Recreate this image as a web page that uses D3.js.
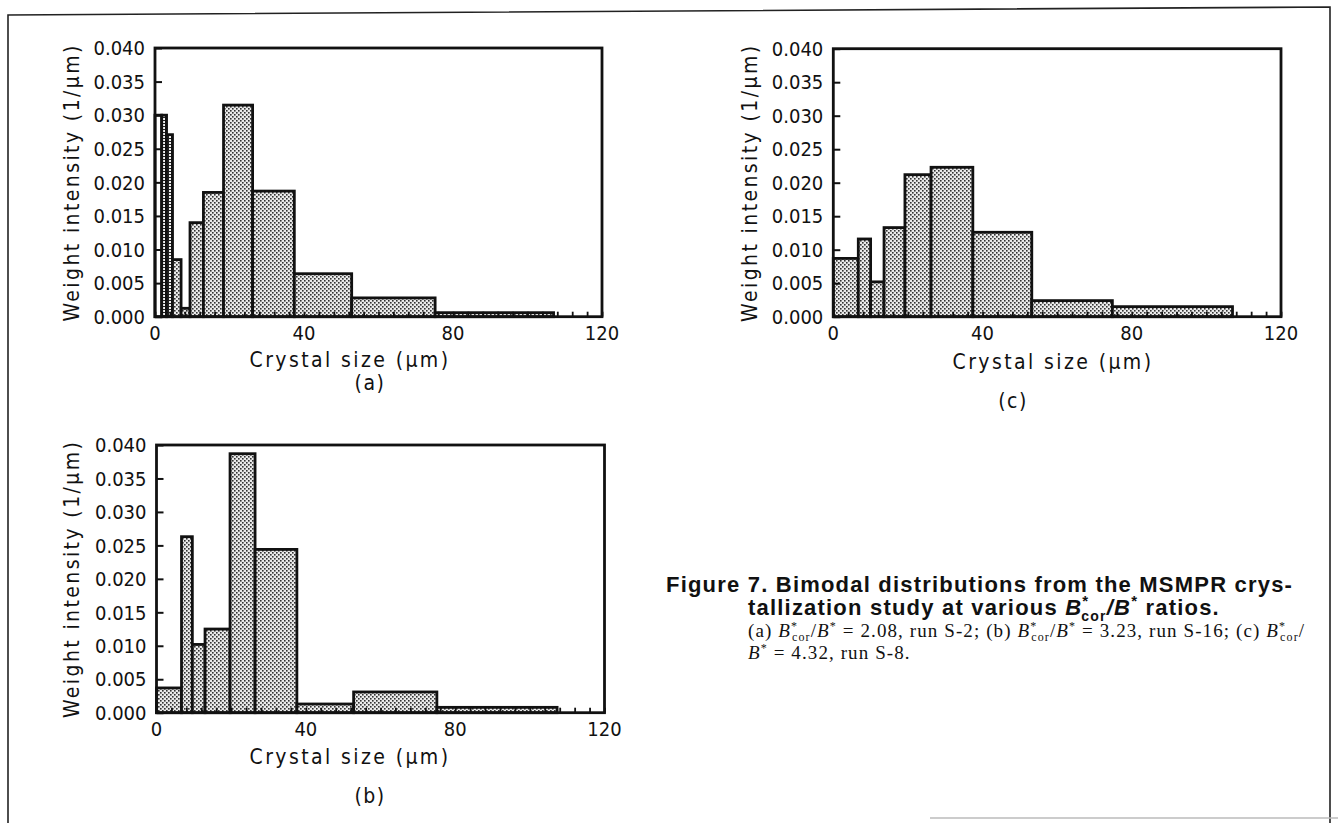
<!DOCTYPE html>
<html>
<head>
<meta charset="utf-8">
<script src="https://cdn.jsdelivr.net/npm/d3@7"></script>
<style>
  body { margin: 0; background: #fff; }
  svg { display: block; }
  .tick-label { font-family: "DejaVu Sans Condensed", "DejaVu Sans", sans-serif; font-size: 20px; fill: #111; }
  .axis-title { font-family: "DejaVu Sans Condensed", "DejaVu Sans", sans-serif; font-size: 21px; fill: #111; letter-spacing: 2.4px; }
  .tag { font-family: "DejaVu Sans Condensed", "DejaVu Sans", sans-serif; font-size: 21px; fill: #111; letter-spacing: 1.5px; }
  .cap-bold { font-family: "Liberation Sans", Arial, sans-serif; font-weight: bold; font-size: 22px; fill: #111; letter-spacing: 1.2px; }
  .cap-small { font-family: "Liberation Serif", "Times New Roman", serif; font-size: 19px; fill: #111; letter-spacing: 1.1px; }
</style>
</head>
<body>
<div id="chart"></div>
<script>
// bin edges (um) and weight intensity (1/um)
const edgesA = [0, 1.8, 3.1, 4.7, 7.0, 9.4, 13.0, 18.4, 26.2, 37.4, 52.8, 75.2, 107];
const valuesA = [0.030, 0.030, 0.0271, 0.0085, 0.00125, 0.014, 0.0185, 0.0315, 0.0187, 0.0064, 0.0028, 0.0006];

const edgesB = [0, 6.7, 9.6, 13.0, 19.7, 26.4, 37.6, 52.8, 75.1, 107.3];
const valuesB = [0.0037, 0.0263, 0.0102, 0.0125, 0.0387, 0.0244, 0.0013, 0.0031, 0.0008];

const edgesC = [0, 6.7, 10.0, 13.6, 19.2, 26.2, 37.4, 53.2, 74.8, 107];
const valuesC = [0.0087, 0.0116, 0.0052, 0.0133, 0.0212, 0.0223, 0.0126, 0.0024, 0.0015];

const yTicks = [0, 0.005, 0.010, 0.015, 0.020, 0.025, 0.030, 0.035, 0.040];
const xTicks = [0, 40, 80, 120];

const W = 1338, H = 823;

const svg = d3.select("#chart").append("svg")
  .attr("width", W)
  .attr("height", H);

const defs = svg.append("defs");
const dots = defs.append("pattern")
  .attr("id", "dots")
  .attr("patternUnits", "userSpaceOnUse")
  .attr("width", 4).attr("height", 4);
dots.append("rect").attr("width", 4).attr("height", 4).attr("fill", "#eaeaea");
dots.append("rect").attr("width", 1.6).attr("height", 1.6).attr("fill", "#333");
dots.append("rect").attr("x", 2).attr("y", 2).attr("width", 1.6).attr("height", 1.6).attr("fill", "#333");

const grid = defs.append("pattern")
  .attr("id", "grid")
  .attr("patternUnits", "userSpaceOnUse")
  .attr("width", 3).attr("height", 3);
grid.append("rect").attr("width", 3).attr("height", 3).attr("fill", "#f2f2f2");
grid.append("rect").attr("width", 3).attr("height", 1).attr("fill", "#222");
grid.append("rect").attr("width", 1).attr("height", 3).attr("fill", "#222");

// page frame
svg.append("path")
  .attr("d", "M8,823 L8,15 L1330,7 L1330,823")
  .attr("fill", "none")
  .attr("stroke", "#222")
  .attr("stroke-width", 1.6);
svg.append("line")
  .attr("x1", 930).attr("x2", 1338)
  .attr("y1", 818).attr("y2", 818)
  .attr("stroke", "#bbb")
  .attr("stroke-width", 1.5);

function drawPanel(cfg) {
  const x = d3.scaleLinear().domain([0, 120]).range([cfg.x0, cfg.x1]);
  const y = d3.scaleLinear().domain([0, 0.040]).range([cfg.y0, cfg.y1]);

  const bins = cfg.values.map(function(v, i) {
    return {lo: cfg.edges[i], hi: cfg.edges[i + 1], v: v};
  });

  const g = svg.append("g");

  g.selectAll("rect.bar")
    .data(bins)
    .enter().append("rect")
    .attr("class", "bar")
    .attr("x", d => x(d.lo))
    .attr("y", d => y(d.v))
    .attr("width", d => x(d.hi) - x(d.lo))
    .attr("height", d => y(0) - y(d.v))
    .attr("fill", function(d) {
      if (!cfg.firstFine) return "url(#dots)";
      if (d.hi <= 1.8) return "#fff";
      if (d.hi <= 4.7) return "url(#grid)";
      return "url(#dots)";
    })
    .attr("stroke", "#111")
    .attr("stroke-width", 2.8);

  // inward ticks
  const yAxis = d3.axisRight(y).tickValues(yTicks).tickSize(7).tickFormat("");
  g.append("g")
    .attr("transform", "translate(" + x(0) + ",0)")
    .call(yAxis)
    .call(s => s.select(".domain").remove())
    .selectAll("line").attr("stroke", "#111").attr("stroke-width", 2);

  const minor = d3.range(0, 121, 4);
  const xAxis = d3.axisTop(x).tickValues(minor)
    .tickSize(5).tickFormat("");
  g.append("g")
    .attr("transform", "translate(0," + y(0) + ")")
    .call(xAxis)
    .call(s => s.select(".domain").remove())
    .selectAll("line").attr("stroke", "#111").attr("stroke-width", 1.8);

  // frame
  g.append("rect")
    .attr("x", x(0)).attr("y", y(0.040))
    .attr("width", x(120) - x(0))
    .attr("height", y(0) - y(0.040))
    .attr("fill", "none")
    .attr("stroke", "#111")
    .attr("stroke-width", 2.8);

  // tick labels
  g.selectAll("text.ylab")
    .data(yTicks)
    .enter().append("text")
    .attr("class", "tick-label")
    .attr("x", x(0) - 10)
    .attr("y", d => y(d))
    .attr("dy", "0.36em")
    .attr("text-anchor", "end")
    .text(d3.format(".3f"));

  g.selectAll("text.xlab")
    .data(xTicks)
    .enter().append("text")
    .attr("class", "tick-label")
    .attr("x", d => x(d))
    .attr("y", y(0) + 23)
    .attr("text-anchor", "middle")
    .text(d => d);

  g.append("text")
    .attr("class", "axis-title")
    .attr("transform", "translate(" + cfg.yTitleX + "," + ((y(0) + y(0.040)) / 2) + ") rotate(-90)")
    .attr("text-anchor", "middle")
    .attr("dy", "0.35em")
    .text("Weight intensity (1/\u03bcm)");

  g.append("text")
    .attr("class", "axis-title")
    .attr("x", cfg.titleX)
    .attr("y", cfg.titleY)
    .attr("text-anchor", "middle")
    .text("Crystal size (\u03bcm)");

  g.append("text")
    .attr("class", "tag")
    .attr("x", cfg.tagX)
    .attr("y", cfg.tagY)
    .attr("text-anchor", "middle")
    .text(cfg.tag);
}

drawPanel({edges: edgesA, values: valuesA, firstFine: true,
  x0: 155, x1: 602, y0: 316.7, y1: 48,
  yTitleX: 72, titleX: 350, titleY: 367, tag: "(a)", tagX: 370, tagY: 390});
drawPanel({edges: edgesC, values: valuesC, firstFine: false,
  x0: 833.3, x1: 1281, y0: 316.7, y1: 48.7,
  yTitleX: 750, titleX: 1053, titleY: 369, tag: "(c)", tagX: 1013, tagY: 408});
drawPanel({edges: edgesB, values: valuesB, firstFine: false,
  x0: 156.5, x1: 604.5, y0: 712.7, y1: 445,
  yTitleX: 72, titleX: 350, titleY: 764, tag: "(b)", tagX: 370, tagY: 803});

// caption
const cap = svg.append("g");
cap.append("text").attr("class", "cap-bold")
  .attr("x", 666).attr("y", 592)
  .text("Figure 7.  Bimodal distributions from the MSMPR crys-");

const l2 = cap.append("text").attr("class", "cap-bold").attr("x", 748).attr("y", 615);
l2.append("tspan").text("tallization study at various ");
l2.append("tspan").attr("font-style", "italic").text("B");
l2.append("tspan").attr("font-size", 15).attr("dy", -9).text("*");
l2.append("tspan").attr("font-size", 14).attr("dx", -8).attr("dy", 15).text("cor");
l2.append("tspan").attr("font-style", "italic").attr("dy", -6).text("/B");
l2.append("tspan").attr("font-size", 15).attr("dy", -9).text("*");
l2.append("tspan").attr("dy", 9).text(" ratios.");

function ratio(t) {
  t.append("tspan").attr("font-style", "italic").text("B");
  t.append("tspan").attr("font-size", 12).attr("dy", -7).text("*");
  t.append("tspan").attr("font-size", 12).attr("dx", -6).attr("dy", 11).text("cor");
  t.append("tspan").attr("dy", -4).text("/");
  t.append("tspan").attr("font-style", "italic").text("B");
  t.append("tspan").attr("font-size", 12).attr("dy", -7).text("*");
}

const l3 = cap.append("text").attr("class", "cap-small").attr("x", 748).attr("y", 637);
l3.append("tspan").text("(a) ");
ratio(l3);
l3.append("tspan").attr("dy", 7).text(" = 2.08, run S-2; (b) ");
ratio(l3);
l3.append("tspan").attr("dy", 7).text(" = 3.23, run S-16; (c) ");
l3.append("tspan").attr("font-style", "italic").text("B");
l3.append("tspan").attr("font-size", 12).attr("dy", -7).text("*");
l3.append("tspan").attr("font-size", 12).attr("dx", -6).attr("dy", 11).text("cor");
l3.append("tspan").attr("dy", -4).text("/");

const l4 = cap.append("text").attr("class", "cap-small").attr("x", 748).attr("y", 659);
l4.append("tspan").attr("font-style", "italic").text("B");
l4.append("tspan").attr("font-size", 12).attr("dy", -7).text("*");
l4.append("tspan").attr("dy", 7).text(" = 4.32, run S-8.");
</script>
</body>
</html>
